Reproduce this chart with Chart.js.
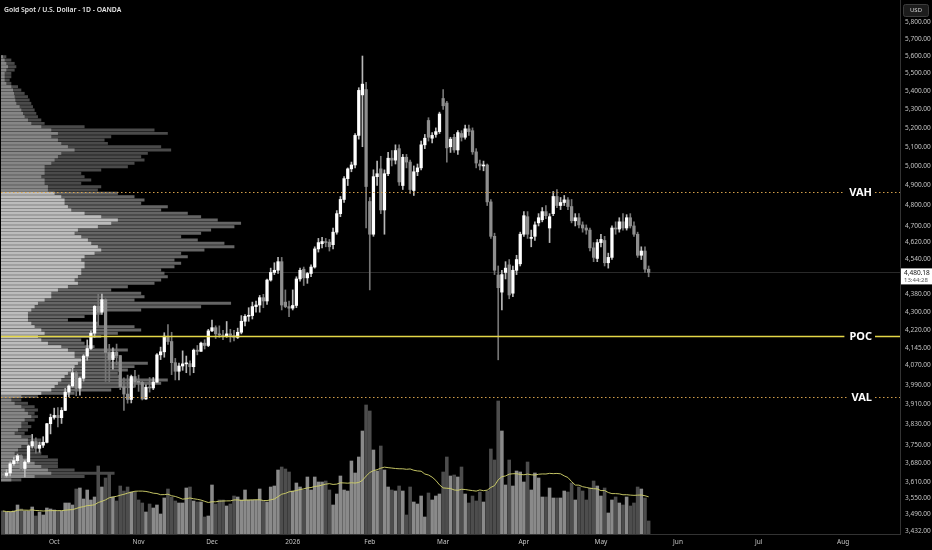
<!DOCTYPE html>
<html>
<head>
<meta charset="utf-8">
<title>Gold Spot / U.S. Dollar</title>
<script src="https://cdn.jsdelivr.net/npm/chart.js@4.4.1/dist/chart.umd.min.js"></script>
<style>
  html, body { margin: 0; padding: 0; background: #000; }
  #wrap { position: relative; width: 932px; height: 550px; }
</style>
</head>
<body>
<div id="wrap"><canvas id="gold"></canvas></div>
<script>
// daily candles, XAUUSD, 11 Sep 2025 .. 20 May 2026
const opens = [
  3640, 3634, 3643, 3678, 3690, 3708, 3660, 3685, 3746, 3763,
  3737, 3749, 3760, 3833, 3858, 3866, 3857, 3886, 3960, 3985,
  4040, 3976, 4017, 4110, 4142, 4208, 4326, 4300, 4356, 4125,
  4095, 4126, 4112, 3982, 3952, 3930, 4024, 4002, 4000, 3932,
  3980, 3977, 4001, 4115, 4128, 4195, 4172, 4082, 4046, 4068,
  4077, 4078, 4065, 4135, 4130, 4165, 4155, 4218, 4232, 4205,
  4200, 4195, 4205, 4198, 4190, 4212, 4260, 4282, 4285, 4325,
  4332, 4365, 4350, 4445, 4480, 4490, 4530, 4345, 4325, 4318,
  4330, 4450, 4495, 4455, 4475, 4505, 4590, 4615, 4625, 4622,
  4610, 4670, 4760, 4830, 4935, 4985, 5005, 5160, 5380, 5410,
  4820, 4660, 4945, 4985, 4778, 4960, 5040, 5030, 5090, 4900,
  5045, 5020, 4875, 4970, 4990, 5110, 5240, 5145, 5165, 5180,
  5360, 5335, 5100, 5150, 5083, 5170, 5150, 5195, 5185, 5073,
  5010, 5000, 5005, 4818, 4650, 4468, 4390, 4480, 4515, 4385,
  4490, 4520, 4660, 4745, 4640, 4650, 4715, 4730, 4770, 4690,
  4760, 4845, 4800, 4815, 4828, 4795, 4725, 4740, 4705, 4690,
  4680, 4595, 4545, 4620, 4630, 4525, 4550, 4690, 4685, 4720,
  4690, 4740, 4700, 4660, 4560, 4580, 4495
];
const highs = [
  3650, 3656, 3685, 3703, 3715, 3712, 3690, 3750, 3791, 3778,
  3761, 3782, 3835, 3871, 3895, 3897, 3897, 3975, 3990, 4059,
  4045, 4022, 4116, 4179, 4218, 4330, 4380, 4381, 4360, 4160,
  4145, 4161, 4112, 4019, 4030, 4030, 4050, 4030, 4005, 3990,
  4020, 4020, 4120, 4148, 4210, 4245, 4212, 4100, 4080, 4132,
  4110, 4090, 4140, 4155, 4170, 4180, 4225, 4265, 4240, 4240,
  4220, 4259, 4225, 4220, 4230, 4285, 4290, 4320, 4345, 4350,
  4375, 4380, 4450, 4500, 4525, 4550, 4550, 4400, 4350, 4400,
  4460, 4500, 4505, 4480, 4515, 4600, 4640, 4645, 4640, 4635,
  4690, 4775, 4845, 4945, 4990, 5020, 5170, 5420, 5600, 5450,
  4840, 4980, 5025, 5050, 4980, 5070, 5080, 5110, 5110, 5060,
  5060, 5030, 5000, 5010, 5130, 5165, 5255, 5175, 5200, 5285,
  5410, 5345, 5150, 5165, 5185, 5185, 5215, 5215, 5200, 5090,
  5030, 5025, 5010, 4830, 4665, 4510, 4490, 4530, 4540, 4510,
  4560, 4670, 4770, 4770, 4680, 4720, 4760, 4790, 4800, 4760,
  4870, 4880, 4840, 4850, 4840, 4830, 4760, 4760, 4720, 4705,
  4690, 4620, 4635, 4660, 4650, 4570, 4700, 4720, 4740, 4760,
  4755, 4760, 4720, 4670, 4600, 4600, 4510
];
const lows = [
  3625, 3628, 3632, 3672, 3680, 3652, 3628, 3680, 3738, 3718,
  3722, 3740, 3758, 3793, 3851, 3820, 3834, 3885, 3940, 3980,
  3945, 3947, 4005, 4092, 4137, 4190, 4240, 4290, 4004, 4003,
  4055, 4073, 3970, 3886, 3915, 3916, 3980, 3963, 3928, 3930,
  3960, 3970, 4000, 4095, 4105, 4160, 4032, 4010, 4010, 4050,
  4040, 4030, 4040, 4115, 4130, 4140, 4150, 4215, 4185, 4190,
  4180, 4190, 4170, 4175, 4185, 4205, 4240, 4260, 4270, 4300,
  4300, 4320, 4335, 4440, 4470, 4475, 4310, 4320, 4280, 4310,
  4320, 4440, 4420, 4430, 4460, 4500, 4575, 4595, 4600, 4580,
  4590, 4660, 4745, 4815, 4900, 4970, 4990, 5140, 5100, 4690,
  4400, 4650, 4900, 4760, 4660, 4950, 5000, 5010, 4900, 4880,
  4990, 4860, 4850, 4950, 4980, 5090, 5130, 5120, 5150, 5170,
  5300, 5020, 5070, 5070, 5060, 5130, 5140, 5160, 5060, 4990,
  4980, 4975, 4800, 4640, 4470, 4094, 4310, 4450, 4360, 4370,
  4470, 4510, 4650, 4640, 4600, 4630, 4700, 4720, 4735, 4620,
  4750, 4790, 4780, 4800, 4780, 4715, 4700, 4690, 4670, 4660,
  4580, 4530, 4530, 4600, 4510, 4500, 4540, 4660, 4670, 4680,
  4680, 4690, 4650, 4550, 4540, 4480, 4460
];
const closes = [
  3635, 3643, 3678, 3690, 3708, 3660, 3685, 3746, 3763, 3737,
  3749, 3760, 3833, 3858, 3866, 3857, 3886, 3960, 3985, 4040,
  3976, 4017, 4110, 4142, 4208, 4326, 4300, 4356, 4125, 4095,
  4126, 4112, 3982, 3952, 3930, 4024, 4002, 4000, 3932, 3980,
  3977, 4001, 4115, 4128, 4195, 4172, 4082, 4046, 4068, 4077,
  4078, 4065, 4135, 4130, 4165, 4155, 4218, 4232, 4205, 4200,
  4195, 4205, 4198, 4190, 4212, 4260, 4282, 4285, 4325, 4332,
  4365, 4350, 4445, 4480, 4490, 4530, 4332, 4325, 4318, 4330,
  4450, 4490, 4455, 4475, 4505, 4590, 4620, 4625, 4620, 4600,
  4670, 4760, 4830, 4935, 4985, 5005, 5160, 5405, 5440, 4895,
  4660, 4945, 4960, 4778, 4960, 5040, 5030, 5080, 4918, 5045,
  5020, 4880, 4970, 4990, 5110, 5145, 5150, 5160, 5180, 5275,
  5320, 5094, 5140, 5083, 5175, 5150, 5195, 5180, 5073, 5015,
  5000, 5005, 4818, 4650, 4490, 4410, 4470, 4500, 4377, 4490,
  4540, 4660, 4750, 4660, 4645, 4705, 4740, 4770, 4750, 4745,
  4845, 4800, 4815, 4828, 4795, 4725, 4740, 4705, 4690, 4680,
  4595, 4550, 4620, 4635, 4525, 4550, 4690, 4685, 4720, 4690,
  4740, 4700, 4660, 4560, 4580, 4495, 4480.18
];
// volume, thousands of contracts (relative)
const volumes = [
  23, 22, 22, 23, 29, 25, 23, 23, 27, 18,
  22, 19, 26, 25, 24, 23, 23, 31, 31, 29,
  45, 46, 35, 44, 34, 37, 68, 47, 56, 60,
  37, 33, 48, 43, 47, 42, 42, 34, 31, 22,
  30, 26, 29, 20, 36, 45, 37, 33, 31, 31,
  46, 47, 33, 32, 32, 17, 18, 49, 30, 34,
  34, 28, 30, 38, 37, 34, 44, 34, 34, 34,
  45, 33, 32, 47, 48, 64, 67, 65, 62, 43,
  51, 47, 44, 57, 44, 57, 52, 52, 53, 44,
  29, 40, 58, 44, 43, 73, 61, 77, 103, 129,
  123, 84, 63, 88, 64, 47, 44, 43, 48, 43,
  19, 47, 32, 30, 38, 17, 41, 34, 38, 40,
  62, 77, 58, 59, 57, 67, 40, 31, 38, 33,
  42, 32, 43, 85, 74, 133, 103, 49, 74, 48,
  63, 62, 52, 72, 44, 61, 56, 37, 37, 46,
  36, 36, 36, 43, 42, 51, 34, 47, 43, 34,
  46, 53, 48, 38, 46, 21, 34, 37, 31, 29,
  37, 28, 31, 47, 45, 36, 13
];
// visible-range volume profile, top row first (up part and total per row)
const profileUp = [
  5, 10, 15, 20, 15, 10, 10, 10, 15, 30,
  35, 38, 40, 42, 45, 55, 60, 65, 70, 80,
  90, 120, 150, 170, 150, 170, 180, 200, 220, 180,
  170, 160, 150, 130, 130, 130, 120, 130, 130, 140,
  140, 160, 180, 190, 190, 200, 210, 250, 300, 350,
  330, 290, 230, 220, 240, 260, 270, 290, 300, 280,
  250, 240, 250, 250, 240, 240, 230, 220, 230, 200,
  170, 150, 150, 130, 110, 100, 90, 80, 80, 80,
  90, 100, 120, 130, 110, 120, 140, 180, 200, 220,
  220, 240, 230, 220, 210, 200, 190, 180, 170, 160,
  150, 120, 60, 30, 40, 60, 70, 80, 90, 70,
  60, 60, 50, 40, 60, 80, 80, 60, 50, 40,
  60, 80, 100, 120, 140, 150, 100, 30
];
const profileTotal = [
  15, 30, 40, 45, 40, 30, 30, 25, 30, 50,
  60, 70, 80, 85, 90, 95, 100, 105, 110, 120,
  130, 250, 460, 500, 330, 310, 320, 480, 510, 440,
  420, 430, 400, 380, 300, 240, 250, 270, 240, 300,
  290, 350, 400, 430, 420, 500, 480, 560, 600, 650,
  720, 700, 630, 600, 540, 590, 670, 700, 610, 540,
  560, 520, 540, 520, 480, 490, 500, 480, 460, 380,
  330, 420, 430, 400, 690, 600, 420, 300, 250, 200,
  290, 400, 420, 350, 300, 240, 250, 280, 380, 330,
  350, 330, 440, 400, 380, 350, 360, 500, 480, 400,
  330, 220, 110, 60, 80, 100, 110, 100, 110, 100,
  80, 90, 80, 70, 90, 120, 130, 110, 100, 120,
  140, 170, 170, 170, 220, 340, 250, 60
];
const yTicks = [5800, 5700, 5600, 5500, 5400, 5300, 5200, 5100, 5000, 4900, 4800, 4700, 4620, 4540,
  4380, 4300, 4220, 4145, 4070, 3990, 3910, 3830, 3750, 3680, 3610, 3550, 3490, 3432];
const monthTicks = ['Oct', 'Nov', 'Dec', '2026', 'Feb', 'Mar', 'Apr', 'May', 'Jun', 'Jul', 'Aug'];
const monthStarts = ['2025-10-01', '2025-11-03', '2025-12-01', '2026-01-02', '2026-02-02', '2026-03-02',
  '2026-04-01', '2026-05-01', '2026-06-01', '2026-07-01', '2026-08-03'];
const holidays = ['2025-12-25', '2026-01-01', '2026-04-03'];

const VAH = 4868, POC = 4197, VAL = 3942;
const lastPrice = 4480.18;
const titleText = 'Gold Spot / U.S. Dollar - 1D - OANDA';
const yMin = 3421, yMax = 5933;
const profileTop = 5596, profileStep = 0.003436; // rows evenly spaced on the log axis

const fontFamily = '"Noto Sans", "DejaVu Sans", sans-serif';
Chart.defaults.font.family = fontFamily;

// trading days (weekdays, exchange holidays removed), running into the empty future space
const dates = [];
const d = new Date(Date.UTC(2025, 8, 11));
while (dates.length < 245) {
  const s = d.toISOString().slice(0, 10);
  const wd = d.getUTCDay();
  if (wd !== 0 && wd !== 6 && !holidays.includes(s)) dates.push(s);
  d.setUTCDate(d.getUTCDate() + 1);
}
const monthIdx = monthStarts.map(s => dates.indexOf(s));

const up = closes.map((c, i) => c >= opens[i]);
const volMA = volumes.map((_, i) => {
  const part = volumes.slice(Math.max(0, i - 19), i + 1);
  return part.reduce((a, b) => a + b, 0) / part.length;
});
const profileRows = profileTotal.map((_, k) => profileTop * Math.exp(-profileStep * k));
const inVA = p => p <= VAH && p >= VAL;

const levelLines = [
  { name: 'VAH', value: VAH, dash: [1.5, 2.5], color: 'rgba(222,168,78,0.95)', width: 1 },
  { name: 'POC', value: POC, dash: [], color: '#e4d648', width: 1.6 },
  { name: 'VAL', value: VAL, dash: [1.5, 2.5], color: 'rgba(222,168,78,0.95)', width: 1 }
];

const overlay = {
  id: 'overlay',
  beforeDatasetsDraw(chart) {
    const { ctx, chartArea: a, scales: { y } } = chart;
    const py = Math.round(y.getPixelForValue(lastPrice)) + 0.5;
    ctx.save();
    ctx.strokeStyle = 'rgba(255,255,255,0.16)';
    ctx.lineWidth = 1;
    ctx.beginPath();
    ctx.moveTo(a.left, py);
    ctx.lineTo(a.right, py);
    ctx.stroke();
    ctx.restore();
  },
  afterDatasetsDraw(chart) {
    const { ctx, chartArea: a, scales: { y } } = chart;
    ctx.save();
    ctx.font = 'bold 11px ' + fontFamily;
    ctx.textBaseline = 'middle';
    ctx.textAlign = 'left';
    levelLines.forEach(l => {
      const py = Math.round(y.getPixelForValue(l.value)) + 0.5;
      const tw = ctx.measureText(l.name).width;
      const tx = a.right - 28 - tw;
      ctx.strokeStyle = l.color;
      ctx.lineWidth = l.width;
      ctx.setLineDash(l.dash);
      ctx.beginPath();
      ctx.moveTo(a.left, py);
      ctx.lineTo(tx - 5, py);
      ctx.moveTo(a.right - 25, py);
      ctx.lineTo(a.right, py);
      ctx.stroke();
      ctx.fillStyle = '#ffffff';
      ctx.fillText(l.name, tx, py + 0.5);
    });
    ctx.restore();
  },
  afterDraw(chart) {
    const { ctx, chartArea: a, scales: { y } } = chart;
    ctx.save();
    ctx.textBaseline = 'middle';
    ctx.textAlign = 'left';
    ctx.font = '600 6.8px ' + fontFamily;
    ctx.fillStyle = '#e6e6e6';
    ctx.fillText(titleText, 4, 10);

    // currency box
    ctx.fillStyle = '#1c1c1c';
    ctx.strokeStyle = '#3c3c3c';
    ctx.lineWidth = 1;
    ctx.beginPath();
    ctx.roundRect(903.5, 4.5, 25, 12, 2);
    ctx.fill();
    ctx.stroke();
    ctx.fillStyle = '#d6d6d6';
    ctx.font = '6px ' + fontFamily;
    ctx.textAlign = 'center';
    ctx.fillText('USD', 916, 10.5);

    // last price tag
    const py = y.getPixelForValue(lastPrice);
    ctx.fillStyle = '#ffffff';
    ctx.fillRect(a.right + 1, py - 4, 31, 16);
    ctx.textAlign = 'left';
    ctx.fillStyle = '#111111';
    ctx.font = '6.5px ' + fontFamily;
    ctx.fillText(lastPrice.toLocaleString('en-US', { minimumFractionDigits: 2 }), a.right + 4, py + 0.5);
    ctx.fillStyle = '#555555';
    ctx.font = '6px ' + fontFamily;
    ctx.fillText('13:44:28', a.right + 4, py + 7.5);
    ctx.restore();
  }
};

new Chart(document.getElementById('gold'), {
  type: 'bar',
  data: {
    labels: dates,
    datasets: [
      {
        label: 'bodies',
        data: opens.map((o, i) => [o, closes[i]]),
        backgroundColor: up.map(u => u ? '#ffffff' : '#8e8e8e'),
        xAxisID: 'x', yAxisID: 'y',
        grouped: false, barThickness: 2.6, minBarLength: 1
      },
      {
        label: 'wicks',
        data: lows.map((l, i) => [l, highs[i]]),
        backgroundColor: up.map(u => u ? '#b8b8b8' : '#757575'),
        xAxisID: 'x', yAxisID: 'y',
        grouped: false, barThickness: 1
      },
      {
        type: 'line',
        label: 'Vol MA',
        data: volMA,
        borderColor: 'rgba(204,204,104,0.95)',
        borderWidth: 1,
        pointRadius: 0,
        xAxisID: 'x', yAxisID: 'yv'
      },
      {
        label: 'Volume',
        data: volumes,
        backgroundColor: up.map(u => u ? '#8a8a8a' : '#4d4d4d'),
        xAxisID: 'x', yAxisID: 'yv',
        grouped: false, barThickness: 2.9
      },
      {
        label: 'profile up',
        indexAxis: 'y',
        data: profileRows.map((p, k) => ({ x: profileUp[k], y: p })),
        backgroundColor: profileRows.map(p => inVA(p) ? '#bcbcbc' : '#868686'),
        xAxisID: 'xp', yAxisID: 'yp',
        grouped: false, barThickness: 2.3
      },
      {
        label: 'profile total',
        indexAxis: 'y',
        data: profileRows.map((p, k) => ({ x: profileTotal[k], y: p })),
        backgroundColor: profileRows.map(p => inVA(p) ? '#656565' : '#4a4a4a'),
        xAxisID: 'xp', yAxisID: 'yp',
        grouped: false, barThickness: 2.3
      }
    ]
  },
  options: {
    responsive: true,
    maintainAspectRatio: false,
    animation: false,
    layout: { padding: { left: 1, top: 0, right: 0, bottom: 0 } },
    plugins: { legend: { display: false }, tooltip: { enabled: false } },
    scales: {
      x: {
        type: 'category',
        position: 'bottom',
        grid: { display: false, drawTicks: false },
        border: { display: true, color: '#333333' },
        ticks: {
          color: '#c4c4c4', font: { size: 6.5 }, padding: 4, autoSkip: false, maxRotation: 0,
          callback: v => { const k = monthIdx.indexOf(v); return k >= 0 ? monthTicks[k] : ''; }
        },
        afterBuildTicks: s => { s.ticks = monthIdx.map(v => ({ value: v })); },
        afterFit: s => { s.height = 16; s.paddingLeft = 0; s.paddingRight = 0; }
      },
      y: {
        type: 'logarithmic',
        position: 'right',
        min: yMin, max: yMax,
        grid: { display: false, drawTicks: false },
        border: { display: true, color: '#333333' },
        ticks: {
          color: '#c4c4c4', font: { size: 6.5 }, padding: 5, autoSkip: false, crossAlign: 'near',
          callback: v => Number(v).toLocaleString('en-US', { minimumFractionDigits: 2, maximumFractionDigits: 2 })
        },
        afterBuildTicks: s => { s.ticks = yTicks.map(v => ({ value: v })); },
        afterFit: s => { s.width = 32; s.paddingTop = 0; s.paddingBottom = 0; }
      },
      yv: { type: 'linear', axis: 'y', display: false, offset: false, min: 0, max: 534 },
      xp: { type: 'linear', axis: 'x', position: 'bottom', display: false, offset: false, grid: { offset: false }, min: 0, max: 2700 },
      yp: { type: 'logarithmic', axis: 'y', position: 'right', display: false, offset: false, min: yMin, max: yMax }
    }
  },
  plugins: [overlay]
});
</script>
</body>
</html>
